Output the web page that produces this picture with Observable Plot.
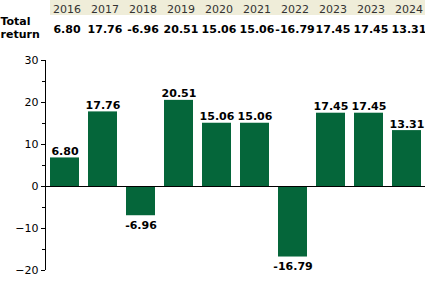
<!DOCTYPE html>
<html>
<head>
<meta charset="utf-8">
<script src="https://cdn.jsdelivr.net/npm/d3@7"></script>
<script src="https://cdn.jsdelivr.net/npm/@observablehq/plot@0.6"></script>
<style>
  html, body { margin: 0; padding: 0; background: #fff; }
  svg { display: block; }
</style>
</head>
<body>
<div id="chart"></div>
<script>
const years = ["2016", "2017", "2018", "2019", "2020", "2021", "2022", "2023", "2023", "2024"];
const returns = [6.80, 17.76, -6.96, 20.51, 15.06, 15.06, -16.79, 17.45, 17.45, 13.31];
const rowLabel = "Total\nreturn";
const yTicks = [-20, -10, 0, 10, 20, 30];
const yMinorTicks = [-20, -15, -10, -5, 0, 5, 10, 15, 20, 25, 30];

const data = years.map((year, i) => ({i, year, value: returns[i], label: returns[i].toFixed(2)}));
const green = "#05663a";
const font = "DejaVu Sans, Verdana, sans-serif";

const headerBg = (index, scales, values, dimensions) => {
  const x0 = scales.x(0);
  const r = document.createElementNS("http://www.w3.org/2000/svg", "rect");
  r.setAttribute("x", x0);
  r.setAttribute("y", 0);
  r.setAttribute("width", dimensions.width - x0);
  r.setAttribute("height", 15);
  r.setAttribute("fill", "#efedd9");
  return r;
};

const chart = Plot.plot({
  width: 425,
  height: 288,
  marginTop: 60,
  marginBottom: 18,
  marginLeft: 45,
  marginRight: 0,
  style: {fontFamily: font, fontSize: "11px", color: "#000", background: "#fff"},
  x: {domain: d3.range(years.length), paddingInner: 0.24, paddingOuter: 0.12, axis: null},
  y: {domain: [-20, 30], axis: null, label: null},
  marks: [
    headerBg,
    Plot.barY(data, {x: "i", y: "value", fill: green}),
    Plot.ruleY([0], {stroke: "#000", strokeWidth: 1.2}),
    Plot.axisY({ticks: yMinorTicks, tickSize: 3, text: null, label: null}),
    Plot.axisY({ticks: yTicks, tickSize: 4, tickPadding: 3, fontSize: 11, fill: "#000", label: null}),
    Plot.text(data.filter(d => d.value >= 0), {x: "i", y: "value", text: "label", lineAnchor: "bottom", dy: -3, fontWeight: "bold", fontSize: 11, fill: "#000"}),
    Plot.text(data.filter(d => d.value < 0), {x: "i", y: "value", text: "label", lineAnchor: "top", dy: 5, fontWeight: "bold", fontSize: 11, fill: "#000"}),
    Plot.text(data, {x: "i", frameAnchor: "top", text: "year", dy: -55, dx: 2, fontSize: 11, fill: "#333"}),
    Plot.text(data, {x: "i", frameAnchor: "top", text: "label", dy: -35, dx: 2, fontWeight: "bold", fontSize: 11, fill: "#000"}),
    Plot.text([rowLabel], {frameAnchor: "top-left", text: d => d, dx: -45, dy: -45, textAnchor: "start", lineAnchor: "top", lineHeight: 1.2, fontWeight: "bold", fontSize: 11, fill: "#000"})
  ]
});
document.getElementById("chart").appendChild(chart);
// vertical axis line
const ys = chart.scale("y");
const line = document.createElementNS("http://www.w3.org/2000/svg", "line");
line.setAttribute("x1", 45.5); line.setAttribute("x2", 45.5);
line.setAttribute("y1", ys.apply(30)); line.setAttribute("y2", ys.apply(-20));
line.setAttribute("stroke", "#000");
chart.appendChild(line);
</script>
</body>
</html>
